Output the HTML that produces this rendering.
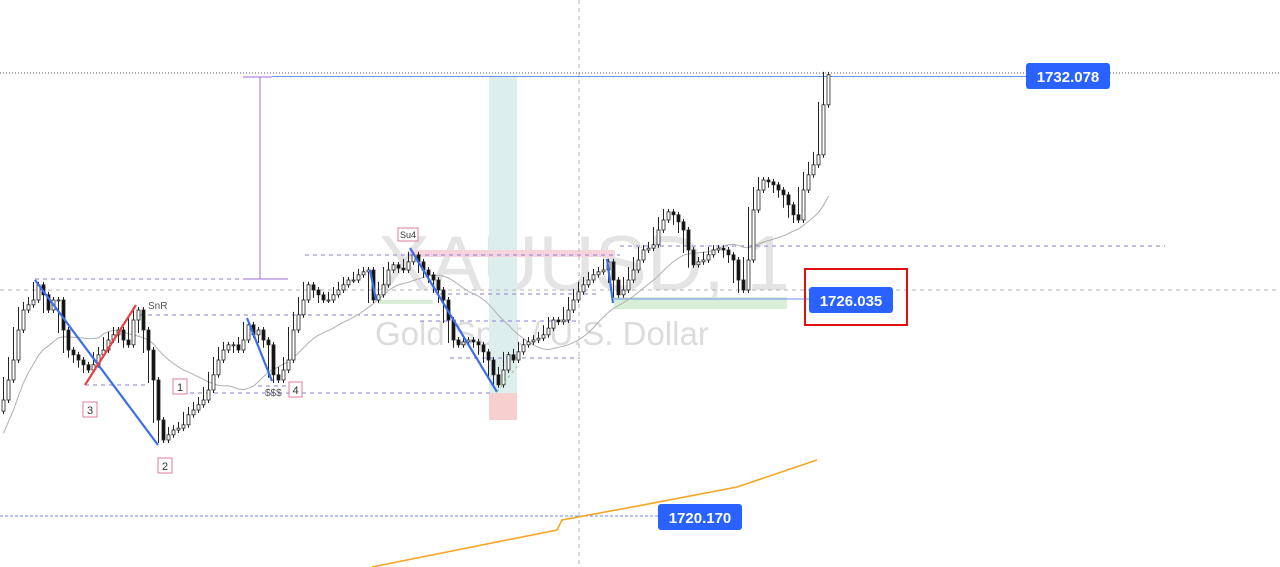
<!DOCTYPE html>
<html><head><meta charset="utf-8"><style>
html,body{margin:0;padding:0;background:#fff;}
svg{display:block;font-family:"Liberation Sans",sans-serif;}
</style></head><body>
<svg id="chart" width="1280" height="567" viewBox="0 0 1280 567" xmlns="http://www.w3.org/2000/svg">
<g>
<text x="378" y="290" font-size="78" fill="#e4e4e4">XAUUSD, 1</text>
<text x="375" y="345" font-size="33" fill="#dcdcdc">Gold Spot / U.S. Dollar</text>
</g>
<rect x="489" y="77" width="28" height="316" fill="#dcefed"/>
<rect x="489" y="393" width="28" height="27" fill="#f8cfcf"/>
<rect x="410" y="250" width="205" height="7" fill="#f7d3dc"/>
<rect x="614" y="297" width="173" height="12" fill="#d9eed6"/>
<rect x="378" y="300" width="55" height="4" fill="#d9eed6"/>
<g stroke-dasharray="4,4" stroke-width="1">
<line x1="0" y1="290" x2="1280" y2="290" stroke="#b0b0b8"/>
<line x1="579" y1="0" x2="579" y2="567" stroke="#b0b0b8"/>
<line x1="35" y1="279" x2="290" y2="279" stroke="#8a7fd6"/>
<line x1="140" y1="315" x2="440" y2="315" stroke="#8a7fd6"/>
<line x1="85" y1="385" x2="145" y2="385" stroke="#8a7fd6"/>
<line x1="190" y1="393" x2="490" y2="393" stroke="#8a7fd6"/>
<line x1="258" y1="386" x2="290" y2="386" stroke="#8a7fd6"/>
<line x1="305" y1="255" x2="620" y2="255" stroke="#8a7fd6"/>
<line x1="620" y1="246" x2="1165" y2="246" stroke="#8a7fd6"/>
<line x1="440" y1="294" x2="600" y2="294" stroke="#8a7fd6"/>
<line x1="420" y1="321" x2="580" y2="321" stroke="#8a7fd6"/>
<line x1="450" y1="358" x2="580" y2="358" stroke="#8a7fd6"/>
</g>
<line x1="0" y1="73" x2="1280" y2="73" stroke="#555" stroke-dasharray="1,2"/>
<line x1="272" y1="76.5" x2="1030" y2="76.5" stroke="#6a8ff0"/>
<line x1="0" y1="516" x2="660" y2="516" stroke="#6a8ff0" stroke-dasharray="3,2"/>
<line x1="614" y1="299" x2="810" y2="299" stroke="#6a8ff0"/>
<g stroke="#9b6fd6">
<line x1="260" y1="77" x2="260" y2="279"/>
<line x1="243" y1="77" x2="272" y2="77"/>
<line x1="243" y1="279" x2="288" y2="279"/>
</g>
<g id="orange"></g>
<g id="ma"></g>
<g id="candles"></g>
<g stroke-width="2.2">
<line x1="35" y1="280" x2="158" y2="445" stroke="#3a6ee8"/>
<line x1="85" y1="385" x2="136" y2="305" stroke="#e84040"/>
<line x1="247" y1="318" x2="272" y2="381" stroke="#3a6ee8"/>
<line x1="370" y1="270" x2="376" y2="300" stroke="#3a6ee8"/>
<line x1="410" y1="248" x2="497" y2="392" stroke="#3a6ee8"/>
<line x1="607" y1="259" x2="613" y2="303" stroke="#3a6ee8"/>
</g>
<line x1="497" y1="392" x2="518" y2="365" stroke="#8cc98c" stroke-dasharray="3,3"/>
<g font-size="11" fill="#333">
<rect x="83" y="402" width="14" height="15" fill="#fff" stroke="#e07aa0"/><text x="90" y="414" text-anchor="middle">3</text>
<rect x="158" y="458" width="14" height="15" fill="#fff" stroke="#e07aa0"/><text x="165" y="470" text-anchor="middle">2</text>
<rect x="173" y="379" width="14" height="15" fill="#fff" stroke="#e07aa0"/><text x="180" y="391" text-anchor="middle">1</text>
<rect x="289" y="382" width="13" height="15" fill="#fff" stroke="#e07aa0"/><text x="295.5" y="394" text-anchor="middle">4</text>
<rect x="398" y="228" width="20" height="13" fill="#fff" stroke="#e07aa0"/><text x="408" y="238" text-anchor="middle" font-size="9">Su4</text>
<text x="148" y="309" font-size="10" fill="#555">SnR</text>
<text x="265" y="396" font-size="10" fill="#555">$$$</text>
</g>
<g>
<rect x="1026" y="63" width="84" height="26" rx="3" fill="#2962ff"/>
<text x="1068" y="82" font-size="15" font-weight="bold" fill="#fff" text-anchor="middle">1732.078</text>
<rect x="805" y="269" width="102" height="56" fill="none" stroke="#e01010" stroke-width="2"/>
<rect x="809" y="287" width="84" height="26" rx="3" fill="#2962ff"/>
<text x="851" y="306" font-size="15" font-weight="bold" fill="#fff" text-anchor="middle">1726.035</text>
<rect x="658" y="504" width="84" height="26" rx="3" fill="#2962ff"/>
<text x="700" y="523" font-size="15" font-weight="bold" fill="#fff" text-anchor="middle">1720.170</text>
</g>
</svg>
<script>
const closes = [1723.33,1723.87,1724.41,1725.22,1725.76,1725.90,1726.03,1726.44,1726.17,1725.76,1726.03,1726.03,1725.22,1724.68,1724.55,1724.41,1724.28,1724.14,1724.28,1724.55,1724.68,1724.95,1725.09,1725.22,1724.95,1724.82,1725.49,1725.76,1725.22,1724.68,1723.87,1722.79,1722.25,1722.39,1722.52,1722.57,1722.66,1722.93,1723.06,1723.20,1723.33,1723.60,1724.01,1724.41,1724.68,1724.82,1724.82,1724.68,1724.95,1725.36,1725.09,1725.22,1724.95,1724.82,1724.01,1723.87,1724.14,1724.41,1725.22,1725.63,1726.03,1726.44,1726.30,1726.17,1726.03,1726.03,1726.17,1726.30,1726.44,1726.57,1726.57,1726.71,1726.79,1726.84,1726.03,1726.17,1726.44,1726.84,1726.98,1726.89,1726.84,1727.06,1727.25,1727.06,1726.84,1726.71,1726.57,1726.30,1726.03,1725.49,1724.95,1724.82,1724.90,1724.95,1724.90,1724.82,1724.63,1724.41,1724.01,1723.74,1724.14,1724.55,1724.41,1724.63,1724.82,1724.90,1724.95,1725.00,1725.09,1725.27,1725.49,1725.44,1725.49,1725.76,1726.03,1726.25,1726.44,1726.57,1726.71,1726.79,1726.84,1727.06,1726.57,1726.17,1726.30,1726.57,1726.84,1727.11,1727.38,1727.43,1727.52,1727.92,1728.19,1728.41,1728.33,1728.14,1727.92,1727.38,1726.98,1727.06,1727.11,1727.25,1727.38,1727.43,1727.38,1727.25,1727.11,1726.57,1726.30,1727.11,1728.46,1729.00,1729.27,1729.22,1729.14,1729.00,1728.87,1728.60,1728.33,1728.19,1729.00,1729.41,1729.68,1729.95,1731.30,1732.11];
const longMaIdx = [74,111,112,128,147,163];
const longMaVal = [1718.82,1719.82,1720.09,1720.49,1720.98,1721.71];
const NS="http://www.w3.org/2000/svg";
const yScale = p => (1734.13 - p) / 0.027;
const xScale = i => 2 + i * 5;
const cg = document.getElementById('candles');
for (let i = 0; i < closes.length; i++) {
  const c = closes[i];
  const o = i > 0 ? closes[i-1] : c - 0.3;
  const nb = i < closes.length-1 ? closes[i+1] : c;
  const hi = Math.max(o, c, nb) + 0.08, lo = Math.min(o, c, nb) - 0.08;
  const x = xScale(i);
  const w = document.createElementNS(NS,'line');
  
  
  w.setAttribute('x1',x+1.5);w.setAttribute('x2',x+1.5);
  w.setAttribute('y1',yScale(hi));w.setAttribute('y2',yScale(lo));
  w.setAttribute('stroke','#222');w.setAttribute('stroke-width','1');
  cg.appendChild(w);
  const top = yScale(Math.max(o,c)), bot = yScale(Math.min(o,c));
  const r = document.createElementNS(NS,'rect');
  
  
  r.setAttribute('x',x);r.setAttribute('width',3);
  r.setAttribute('y',top);r.setAttribute('height',Math.max(1,bot-top));
  r.setAttribute('fill', c >= o ? '#fff' : '#111');
  r.setAttribute('stroke','#222');r.setAttribute('stroke-width','0.8');
  cg.appendChild(r);
}
let pts=[];
for (let i = 0; i < closes.length; i++) {
  const s = closes.slice(Math.max(0,i-19), i+1);
  const m = s.reduce((a,b)=>a+b,0)/s.length - (i<20 ? 0.9*(20-i)/20 : 0);
  pts.push(xScale(i)+1.5 + ',' + yScale(m).toFixed(1));
}
const ma = document.createElementNS(NS,'polyline');


ma.setAttribute('points',pts.join(' '));
ma.setAttribute('fill','none');ma.setAttribute('stroke','#b0b0b0');ma.setAttribute('stroke-width','1');
document.getElementById('ma').appendChild(ma);
const op = longMaIdx.map((k,j)=>xScale(k)+','+yScale(longMaVal[j]).toFixed(1));
const ol = document.createElementNS(NS,'polyline');


ol.setAttribute('points',op.join(' '));
ol.setAttribute('fill','none');ol.setAttribute('stroke','#f5a623');ol.setAttribute('stroke-width','1.6');
document.getElementById('orange').appendChild(ol);
</script>
</body></html>
